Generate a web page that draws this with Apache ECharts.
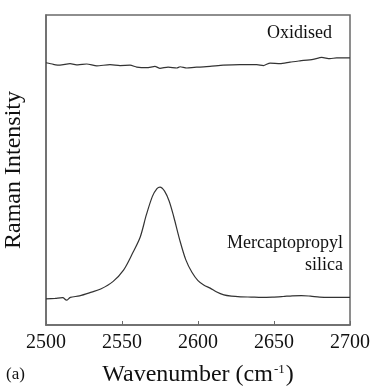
<!DOCTYPE html>
<html>
<head>
<meta charset="utf-8">
<script src="https://cdn.jsdelivr.net/npm/echarts@6/dist/echarts.min.js"></script>
<style>html,body{margin:0;padding:0;background:#fff;}#c{width:374px;height:387px;}</style>
</head>
<body>
<div id="c"></div>
<script>
// Wavenumber (cm-1) and relative Raman intensity (arbitrary units)
const oxidisedX = [2500,2504.8,2509.2,2515.8,2521,2526.8,2533.4,2542.1,2548.7,2555.3,2559.7,2566.3,2571.7,2575,2580.3,2586,2588.2,2592.6,2599.1,2601.3,2607.9,2616.6,2627.6,2638.6,2643,2647.4,2654,2660.5,2667.1,2675.7,2681.4,2686.8,2691.2,2700];
const oxidisedY = [84.6,84.1,83.8,84.3,83.9,84.2,83.6,84.0,83.7,83.8,83.2,83.0,83.4,82.8,83.2,82.9,83.3,82.9,83.2,83.2,83.4,83.8,84.0,84.0,83.7,84.5,84.3,84.8,85.2,85.7,86.3,85.9,86.2,86.2];
const mercaptoX = [2500,2506,2511,2513.5,2516,2522,2530,2536,2544,2551,2557,2562,2566,2570,2573,2575,2578,2581,2584,2588,2592,2596,2600,2604,2608,2612,2617,2622,2628,2635,2642,2649,2656,2662,2668,2674,2680,2686,2692,2700];
const mercaptoY = [8.4,8.6,8.8,8.0,8.9,9.4,10.6,11.6,14.0,17.7,23.2,28.4,35.5,41.5,44.0,44.5,43.2,40.0,35.0,27.4,21.0,17.0,14.3,12.8,11.9,10.7,9.7,9.3,9.1,9.0,8.9,9.0,9.2,9.4,9.5,9.3,9.0,8.9,8.9,8.9];
const xTicks = [2500,2550,2600,2650,2700];
const labels = {oxidised: 'Oxidised', mercapto: ['Mercaptopropyl','silica'], panel: '(a)'};

const serif = '"Liberation Serif","DejaVu Serif","Times New Roman",serif';
const chart = echarts.init(document.getElementById('c'), null, {renderer:'canvas'});
const pair = (xs, ys) => xs.map((x,i)=>[x, ys[i]]);
chart.setOption({
  animation:false,
  backgroundColor:'#fff',
  grid:{left:46,right:24,top:15,bottom:62,containLabel:false,outerBoundsMode:'none',show:true,borderColor:'#6a6a6a',borderWidth:1.5},
  xAxis:{type:'value',min:xTicks[0],max:xTicks[xTicks.length-1],interval:50,
    axisLine:{show:true,lineStyle:{color:'#6a6a6a',width:1.5}},
    axisTick:{show:true,inside:true,length:4,lineStyle:{color:'#6a6a6a'}},
    splitLine:{show:false},
    axisLabel:{fontFamily:serif,fontSize:20,color:'#111',margin:8,formatter:v=>String(v)},
    name:'{a|Wavenumber (cm}{s|-1}{a|)}',nameLocation:'middle',nameGap:38,
    nameTextStyle:{rich:{a:{fontFamily:serif,fontSize:24,color:'#111',verticalAlign:'bottom',lineHeight:24},s:{fontFamily:serif,fontSize:13,color:'#111',verticalAlign:'top',lineHeight:24,padding:[0,1,12,1]}}}
  },
  yAxis:{type:'value',min:0,max:100,
    axisLine:{show:true,lineStyle:{color:'#6a6a6a',width:1.5}},
    axisTick:{show:false},axisLabel:{show:false},splitLine:{show:false},
    name:'Raman Intensity',nameLocation:'middle',nameGap:20,
    nameTextStyle:{fontFamily:serif,fontSize:24,color:'#111'}
  },
  series:[
    {type:'line',data:pair(oxidisedX,oxidisedY),showSymbol:false,smooth:0.2,lineStyle:{color:'#333',width:1.2}},
    {type:'line',data:pair(mercaptoX,mercaptoY),showSymbol:false,smooth:0.3,lineStyle:{color:'#333',width:1.2}}
  ],
  graphic:[
    {type:'text',left:267,top:24,style:{text:labels.oxidised,font:'18px '+serif,fill:'#111'}},
    {type:'text',right:31,top:234,style:{text:labels.mercapto[0],font:'18px '+serif,fill:'#111'}},
    {type:'text',right:31,top:256,style:{text:labels.mercapto[1],font:'18px '+serif,fill:'#111'}},
    {type:'text',left:6,top:366,style:{text:labels.panel,font:'17px '+serif,fill:'#111'}}
  ]
});
</script>
</body>
</html>
